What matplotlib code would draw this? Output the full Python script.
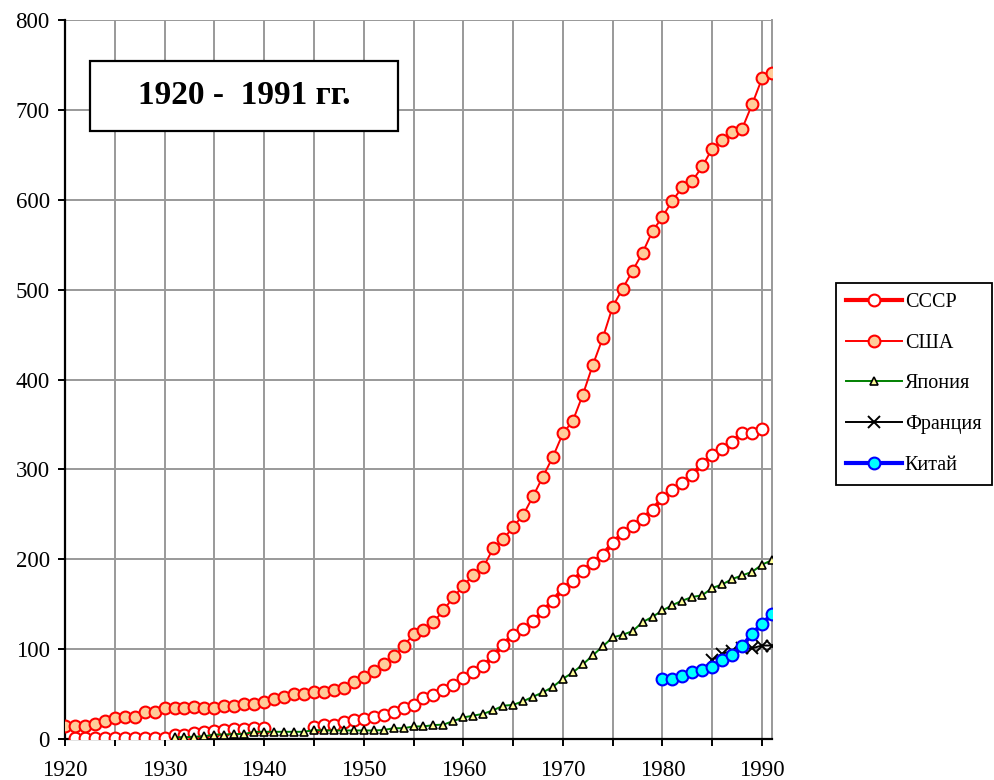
import numpy as np
import matplotlib.pyplot as plt
from matplotlib.patches import Rectangle
from matplotlib.ticker import MultipleLocator, FuncFormatter

plt.rcParams['font.family'] = ['Liberation Serif', 'DejaVu Serif']

years = np.arange(1920, 1992)

# США (upper curve, peach markers)
usa = [14, 14, 14.5, 17, 19.5, 23, 25, 25, 29.5, 29.5,
       34, 34, 34.5, 36, 34, 34, 36.5, 36.5, 39, 39,
       41.5, 44, 47, 50, 50, 52, 52, 54, 57, 63,
       69, 76, 84, 92, 103, 117, 121, 130, 143, 158,
       170, 183, 191, 212, 222, 236, 249, 270, 292, 314,
       340, 354, 383, 416, 446, 481, 501, 521, 541, 565,
       581, 599, 614, 621, 637, 657, 666, 675, 679, 706,
       735, 741]

# СССР (lower curve, white markers), gap 1941-1944
nan = np.nan
ussr = [nan, 1, 1, 1, 1, 1, 1, 1, 1, 1,
        1, 4, 5, 7, 8, 9, 10, 11, 11, 12,
        12, nan, nan, nan, nan, 13, 16, 16, 19, 21,
        22, 24, 27, 30, 34, 38, 46, 49, 54, 60,
        68, 74, 81, 92, 105, 116, 122, 131, 142, 154,
        167, 176, 187, 196, 205, 218, 229, 237, 245, 255,
        268, 277, 285, 294, 306, 316, 323, 331, 340, 340,
        345, nan]

japan_years = np.arange(1931, 1992)
japan = [2, 2, 2.5, 3, 5, 5, 5.5, 5.5, 8, 8,
         8, 8, 8, 8, 10, 9.5, 9.5, 9.5, 9.5, 9.5,
         9.5, 10, 12, 12, 14, 14, 15.5, 16, 20, 24,
         26, 28, 32, 37, 38, 42, 47, 52, 58, 67,
         74, 83, 93, 103, 113, 116, 120, 130, 136, 143,
         149, 154, 158, 160, 168, 172, 178, 182, 186, 194,
         199]

france_years = np.arange(1985, 1992)
france = [88, 95, 98, 101, 101, 104, 104]

china_years = np.arange(1980, 1992)
china = [67, 67, 70, 74, 77, 80, 88, 94, 103, 117, 128, 139]

fig = plt.figure(figsize=(9.95, 7.8), dpi=100)
ax = fig.add_axes([65 / 995, 1 - 739 / 780, (772 - 65) / 995, (739 - 20) / 780])

ax.plot(years, ussr, color='red', lw=3, marker='o', ms=8.5,
        mfc='white', mec='red', mew=1.5, label='СССР', zorder=3)
ax.plot(years, usa, color='red', lw=1.4, marker='o', ms=8.5,
        mfc='#FFCC99', mec='red', mew=1.5, label='США', zorder=3)
ax.plot(japan_years, japan, color='green', lw=1.4, marker='^', ms=6,
        mfc='#FFFF99', mec='black', mew=1.2, label='Япония', zorder=3)
ax.plot(france_years, france, color='black', lw=1.4, marker='x', ms=9,
        mec='black', mew=1.4, label='Франция', zorder=3)
ax.plot(china_years, china, color='blue', lw=3, marker='o', ms=8.5,
        mfc='cyan', mec='blue', mew=1.5, label='Китай', zorder=3)

ax.set_xlim(1920, 1991)
ax.set_ylim(0, 800)
ax.xaxis.set_major_locator(MultipleLocator(5))
ax.xaxis.set_major_formatter(FuncFormatter(lambda v, p: f"{int(v)}" if int(v) % 10 == 0 else ""))
ax.yaxis.set_major_locator(MultipleLocator(100))
ax.grid(True, color='#999999', lw=1.4, zorder=0)
ax.set_axisbelow(True)

ax.spines['top'].set_visible(False)
ax.spines['right'].set_color('#999999')
ax.spines['right'].set_linewidth(1.4)
ax.spines['left'].set_linewidth(1.6)
ax.spines['bottom'].set_linewidth(1.6)
ax.tick_params(axis='both', direction='out', length=5, width=1.4, labelsize=16.5)
ax.tick_params(axis='x', pad=10)
ax.tick_params(axis='y', pad=6)

# title box
ax.add_patch(Rectangle((25 / 707, 608 / 719), 308 / 707, 70 / 719,
                       transform=ax.transAxes, fc='white', ec='black',
                       lw=1.6, zorder=5))
ax.text(179 / 707, 643 / 719, '1920 -  1991 гг.', transform=ax.transAxes,
        fontsize=24, fontweight='bold', ha='center', va='center', zorder=6)

leg = fig.legend(loc='upper left', bbox_to_anchor=(836 / 995, 1 - 283 / 780),
                 fontsize=14.5, frameon=True, fancybox=False, framealpha=1,
                 edgecolor='black', handlelength=2.8, labelspacing=1.07,
                 borderpad=0.5, handletextpad=0.12, borderaxespad=0)
leg.get_frame().set_linewidth(1.3)

fig.savefig('out.png', dpi=100)
